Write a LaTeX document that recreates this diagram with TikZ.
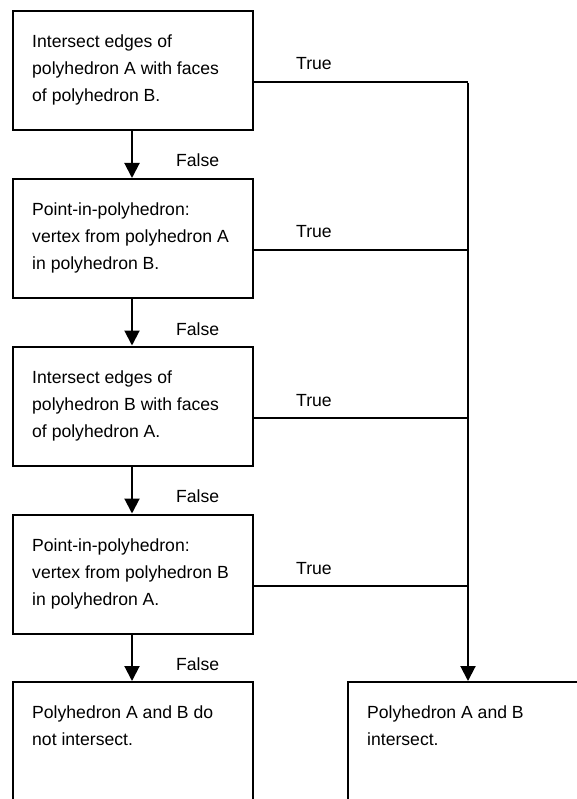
\documentclass[tikz,border=0pt]{standalone}
\usepackage{fontspec}
\setmainfont{Liberation Sans}
\usetikzlibrary{arrows.meta}
\begin{document}
\begin{tikzpicture}[x=1pt,y=-1pt,
  every node/.style={font=\fontsize{17.6}{27}\selectfont},
  stepbox/.style={draw,line width=2pt,minimum width=240pt,minimum height=119pt,
    anchor=north west,inner sep=0pt},
  endbox/.style={draw,line width=2pt,minimum width=240pt,minimum height=160pt,
    anchor=north west,inner sep=0pt},
  boxtext/.style={anchor=north west,align=left,inner sep=0pt},
  lbl/.style={anchor=base west,inner sep=0pt},
  flow/.style={line width=2pt},
  flowarrow/.style={line width=2pt,-{Triangle[width=15pt,length=15pt]}}]
\useasboundingbox (0,0) rectangle (577,799);
\begin{scope}
\clip (0,0) rectangle (577,799);

% decision steps, left column
\node[stepbox] (s1) at (12,10) {};
\node[stepbox] (s2) at (12,178) {};
\node[stepbox] (s3) at (12,345.5) {};
\node[stepbox] (s4) at (12,513.5) {};
\node[endbox]  (no) at (12,681) {};
\node[endbox]  (yes) at (347,681) {};

\node[boxtext] (t1) at ([shift={(20,25)}]s1.north west)
  {Intersect edges of\\polyhedron A with faces\\of polyhedron B.};
\node[boxtext] (t2) at ([shift={(20,25)}]s2.north west)
  {Point-in-polyhedron:\\vertex from polyhedron A\\in polyhedron B.};
\node[boxtext] (t3) at ([shift={(20,25)}]s3.north west)
  {Intersect edges of\\polyhedron B with faces\\of polyhedron A.};
\node[boxtext] (t4) at ([shift={(20,25)}]s4.north west)
  {Point-in-polyhedron:\\vertex from polyhedron B\\in polyhedron A.};
\node[boxtext] (t5) at ([shift={(20,25)}]no.north west)
  {Polyhedron A and B do\\not intersect.};
\node[boxtext] (t6) at ([shift={(20,25)}]yes.north west)
  {Polyhedron A and B\\intersect.};

% False branches
\draw[flowarrow] (s1.south -| 132,0) -- (s2.north -| 132,0);
\draw[flowarrow] (s2.south -| 132,0) -- (s3.north -| 132,0);
\draw[flowarrow] (s3.south -| 132,0) -- (s4.north -| 132,0);
\draw[flowarrow] (s4.south -| 132,0) -- (no.north -| 132,0);
\node[lbl] (f1) at (176,167) {False};
\node[lbl] (f2) at (176,335) {False};
\node[lbl] (f3) at (176,502.5) {False};
\node[lbl] (f4) at (176,670.5) {False};

% True branches merging into the collector line
\coordinate (c1) at (468,82);
\coordinate (c2) at (468,250);
\coordinate (c3) at (468,418);
\coordinate (c4) at (468,586);
\draw[flow] (s1.east |- c1) -- (c1);
\draw[flow] (s2.east |- c2) -- (c2);
\draw[flow] (s3.east |- c3) -- (c3);
\draw[flow] (s4.east |- c4) -- (c4);
\draw[flowarrow] ([yshift=-1pt]c1) -- (yes.north -| c1);
\node[lbl] (r1) at (296,70) {True};
\node[lbl] (r2) at (296,238) {True};
\node[lbl] (r3) at (296,406) {True};
\node[lbl] (r4) at (296,574) {True};
\end{scope}
\end{tikzpicture}
\end{document}
